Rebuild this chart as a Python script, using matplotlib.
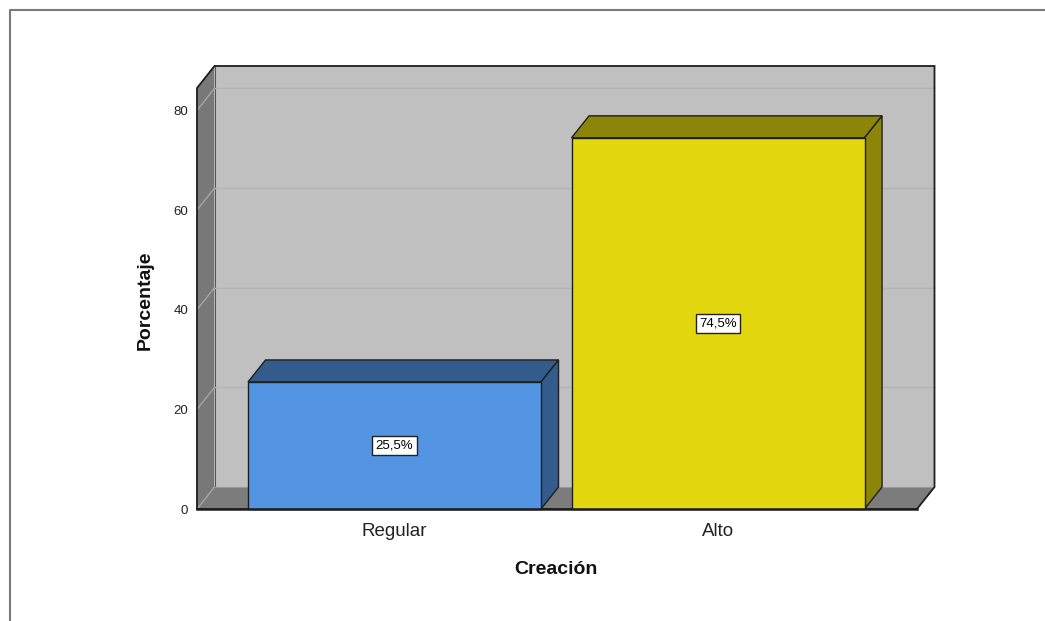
import matplotlib
matplotlib.use("Agg")
import matplotlib.pyplot as plt
from matplotlib.patches import Polygon, Rectangle
from matplotlib.lines import Line2D

# ---- data ----
categories = ["Regular", "Alto"]
values = [25.5, 74.5]
value_labels = ["25,5%", "74,5%"]
yticks = [0, 20, 40, 60, 80]
front_colors = ["#5394e3", "#e3d70f"]
dark_colors = ["#335b8c", "#8b850a"]

plt.rcParams['font.family'] = ['Liberation Sans', 'DejaVu Sans']

W, H = 1045, 621
fig = plt.figure(figsize=(W / 100, H / 100), dpi=100)

# front plane in pixels: x 197..917, y 509 (value 0) up to 88
px_left, px_right, px_bottom, px_top = 197, 917, 509, 88
ax = fig.add_axes([px_left / W, (H - px_bottom) / H,
                   (px_right - px_left) / W, (px_bottom - px_top) / H])

ymax = 84.5
xmin, xmax = -0.6105, 1.615
ax.set_xlim(xmin, xmax)
ax.set_ylim(0, ymax)
xscale = (px_right - px_left) / (xmax - xmin)
yscale = (px_bottom - px_top) / ymax
dx = 17.5 / xscale
dy = 22.0 / yscale
bar_w = 293 / xscale

for s in ax.spines.values():
    s.set_visible(False)
ax.patch.set_visible(False)

edge = "#1e1e1e"
wall_back = "#c0c0c0"
wall_side = "#787878"
grid_back = "#b3b3b3"
grid_side = "#a6a6a6"

# back wall
ax.add_patch(Polygon([(xmin + dx, dy), (xmax + dx, dy), (xmax + dx, ymax + dy),
                      (xmin + dx, ymax + dy)], closed=True, facecolor=wall_back,
                     edgecolor="none", clip_on=False, zorder=1))
# left wall
ax.add_patch(Polygon([(xmin, 0), (xmin, ymax), (xmin + dx, ymax + dy), (xmin + dx, dy)],
                     closed=True, facecolor=wall_side, edgecolor="none",
                     clip_on=False, zorder=1))
# floor
ax.add_patch(Polygon([(xmin, 0), (xmax, 0), (xmax + dx, dy), (xmin + dx, dy)],
                     closed=True, facecolor="#7c7c7c", edgecolor="none",
                     clip_on=False, zorder=1))
# inner edges of walls
ax.add_line(Line2D([xmin + dx, xmin + dx], [dy, ymax + dy], color="#555555", lw=0.8,
                   clip_on=False, zorder=1.5))
ax.add_line(Line2D([xmin + dx, xmax + dx], [dy, dy], color="#9a9a9a", lw=0.8,
                   clip_on=False, zorder=1.5))

# gridlines
for t in yticks:
    ax.add_line(Line2D([xmin, xmin + dx], [t, t + dy], color=grid_side, lw=1,
                       clip_on=False, zorder=2))
    if t > 0:
        ax.add_line(Line2D([xmin + dx, xmax + dx], [t + dy, t + dy], color=grid_back,
                           lw=1, clip_on=False, zorder=2))

# outer outlines
ax.add_line(Line2D([xmin, xmin, xmin + dx, xmax + dx, xmax + dx, xmax, xmin],
                   [0, ymax, ymax + dy, ymax + dy, dy, 0, 0],
                   color=edge, lw=1.3, clip_on=False, zorder=2.5, solid_joinstyle="miter"))

# bars
for i, (v, fc, dc, lab) in enumerate(zip(values, front_colors, dark_colors, value_labels)):
    x0 = i - bar_w / 2
    x1 = i + bar_w / 2
    z = 3 + i
    ax.add_patch(Polygon([(x0, v), (x1, v), (x1 + dx, v + dy), (x0 + dx, v + dy)],
                         closed=True, facecolor=dc, edgecolor=edge, lw=1,
                         clip_on=False, zorder=z))
    ax.add_patch(Polygon([(x1, 0), (x1 + dx, dy), (x1 + dx, v + dy), (x1, v)],
                         closed=True, facecolor=dc, edgecolor=edge, lw=1,
                         clip_on=False, zorder=z))
    ax.add_patch(Rectangle((x0, 0), bar_w, v, facecolor=fc, edgecolor=edge, lw=1,
                           clip_on=False, zorder=z + 0.1))
    ax.text(i, v / 2, lab, ha="center", va="center", fontsize=9.5, color="black",
            zorder=z + 0.2,
            bbox=dict(boxstyle="square,pad=0.25", facecolor="white",
                      edgecolor="#222222", lw=1))

# front floor line
ax.add_line(Line2D([xmin, xmax], [0, 0], color=edge, lw=1.8, clip_on=False, zorder=10))

# ticks
ax.set_xticks(range(len(categories)))
ax.set_xticklabels(categories, fontsize=13.5, color="#222222")
ax.set_yticks(yticks)
ax.set_yticklabels([str(t) for t in yticks], fontsize=9.5, color="#222222")
ax.tick_params(axis="x", length=0, pad=10)
ax.tick_params(axis="y", length=0, pad=6.5)

# axis titles
ax.text((145 - px_left) / (px_right - px_left), (px_bottom - 300) / (px_bottom - px_top),
        "Porcentaje", transform=ax.transAxes, rotation=90, ha="center", va="center",
        fontsize=14, fontweight="bold", color="#111111")
ax.text((556 - px_left) / (px_right - px_left), (px_bottom - 570) / (px_bottom - px_top),
        "Creación", transform=ax.transAxes, ha="center", va="center",
        fontsize=14, fontweight="bold", color="#111111")

# outer frame (top and left edges visible)
fig.add_artist(Line2D([10 / W, 10 / W, 1.0], [0.0, 1 - 10 / H, 1 - 10 / H],
                      transform=fig.transFigure, color="#7a7a7a", lw=1.5))

fig.savefig("out.png", dpi=100)
